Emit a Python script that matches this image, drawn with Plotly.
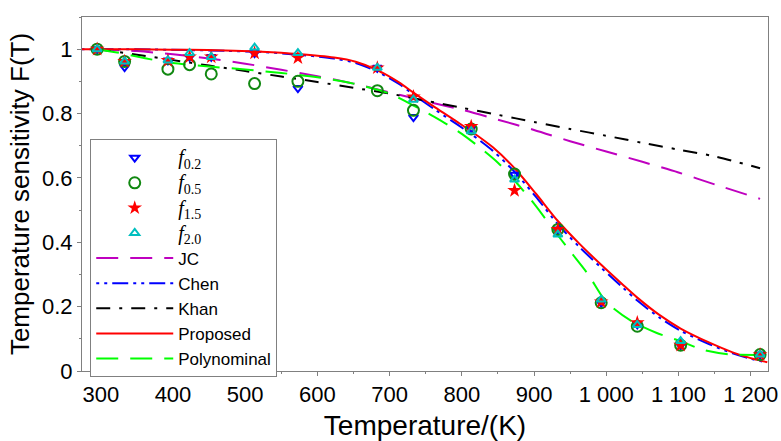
import plotly.graph_objects as go

# ---- measured data (temperature in K, F(T)) ----
T_exp = [295, 333, 393, 423, 453, 513, 573, 683, 733, 813, 873, 933, 993, 1043, 1103, 1213]
f02 = [1.0, 0.944, 0.965, 0.976, 0.976, 0.988, 0.879, 0.942, 0.789, 0.755, 0.61, 0.44, 0.212, 0.145, 0.08, 0.051]
f05 = [1.0, 0.962, 0.938, 0.952, 0.923, 0.893, 0.90, 0.871, 0.81, 0.752, 0.612, 0.44, 0.212, 0.139, 0.08, 0.051]
f15 = [1.0, 0.962, 0.965, 0.976, 0.976, 0.988, 0.973, 0.942, 0.852, 0.76, 0.561, 0.44, 0.215, 0.15, 0.08, 0.051]
f20 = [1.0, 0.962, 0.965, 0.988, 0.976, 1.005, 0.988, 0.942, 0.843, 0.745, 0.595, 0.424, 0.222, 0.143, 0.093, 0.051]

# ---- model curves ----
T_jc = [295, 350, 400, 450, 500, 550, 600, 650, 700, 750, 800, 850, 900, 950, 1000, 1050, 1100, 1150, 1213]
F_jc = [1.0, 0.994, 0.984, 0.971, 0.955, 0.936, 0.916, 0.893, 0.866, 0.838, 0.812, 0.781, 0.749, 0.714, 0.682, 0.650, 0.617, 0.580, 0.535]

T_khan = [295, 350, 400, 450, 500, 550, 600, 650, 700, 750, 800, 850, 900, 950, 1000, 1050, 1100, 1150, 1213]
F_khan = [1.0, 0.983, 0.966, 0.949, 0.932, 0.915, 0.898, 0.88, 0.862, 0.84, 0.818, 0.796, 0.774, 0.752, 0.731, 0.709, 0.688, 0.667, 0.63]

T_prop = [273, 323, 373, 423, 473, 523, 573, 623, 653, 683, 713, 733, 763, 793, 813, 843, 873, 903, 933, 963, 993, 1023, 1043, 1073, 1103, 1143, 1175, 1200, 1223]
F_prop = [1.0, 1.0, 0.999, 0.998, 0.996, 0.992, 0.985, 0.974, 0.961, 0.935, 0.897, 0.865, 0.819, 0.775, 0.745, 0.695, 0.63, 0.55, 0.466, 0.395, 0.33, 0.268, 0.228, 0.175, 0.132, 0.088, 0.058, 0.04, 0.027]
F_chen = [1.0, 1.0, 0.999, 0.997, 0.995, 0.991, 0.983, 0.971, 0.957, 0.93, 0.892, 0.859, 0.812, 0.767, 0.736, 0.684, 0.619, 0.54, 0.456, 0.385, 0.321, 0.259, 0.219, 0.167, 0.125, 0.083, 0.055, 0.038, 0.026]

T_poly = [295, 325, 350, 375, 400, 450, 500, 550, 600, 650, 700, 733, 760, 800, 850, 873, 900, 925, 950, 975, 1000, 1035, 1070, 1100, 1135, 1170, 1213]
F_poly = [1.0, 0.989, 0.977, 0.966, 0.957, 0.946, 0.937, 0.926, 0.913, 0.893, 0.862, 0.825, 0.792, 0.737, 0.647, 0.592, 0.52, 0.445, 0.372, 0.3, 0.215, 0.155, 0.118, 0.095, 0.065, 0.052, 0.05]

x_ticks = [300, 400, 500, 600, 700, 800, 900, 1000, 1100, 1200]
y_ticks = [0, 0.2, 0.4, 0.6, 0.8, 1.0]

SERIF = "Liberation Serif, DejaVu Serif, serif"


def fname(sub):
    return ('<span style="font-family:%s;font-size:20px"><i>f</i><sub>%s</sub></span>' % (SERIF, sub))


fig = go.Figure()

# lines first (legend ranked after markers)
fig.add_trace(go.Scatter(x=T_jc, y=F_jc, mode="lines", name="JC", legendrank=5,
                         line=dict(color="#BF00BF", width=2, dash="22px,12px", shape="spline", smoothing=0.8)))
fig.add_trace(go.Scatter(x=T_prop, y=F_chen, mode="lines", name="Chen", legendrank=6,
                         line=dict(color="#0000FF", width=2, dash="3px,5px,3px,5px,16px,5px", shape="spline", smoothing=0.8)))
fig.add_trace(go.Scatter(x=T_khan, y=F_khan, mode="lines", name="Khan", legendrank=7,
                         line=dict(color="#000000", width=2, dash="14px,9px,3px,9px", shape="spline", smoothing=0.8)))
fig.add_trace(go.Scatter(x=T_prop, y=F_prop, mode="lines", name="Proposed", legendrank=8,
                         line=dict(color="#FF0000", width=2, shape="spline", smoothing=0.8)))
fig.add_trace(go.Scatter(x=T_poly, y=F_poly, mode="lines", name="Polynominal", legendrank=9,
                         line=dict(color="#00FF00", width=2, dash="22px,12px", shape="spline", smoothing=0.8)))

# experimental markers
fig.add_trace(go.Scatter(x=T_exp, y=f02, mode="markers", name=fname("0.2"), legendrank=1,
                         marker=dict(symbol="triangle-down-open", size=8, color="#0000FF",
                                     line=dict(width=2, color="#0000FF"))))
fig.add_trace(go.Scatter(x=T_exp, y=f05, mode="markers", name=fname("0.5"), legendrank=2,
                         marker=dict(symbol="circle-open", size=11, color="#118811",
                                     line=dict(width=2, color="#118811"))))
fig.add_trace(go.Scatter(x=T_exp, y=f15, mode="markers", name=fname("1.5"), legendrank=3,
                         marker=dict(symbol="star", size=11, color="#FF0000",
                                     line=dict(width=0))))
fig.add_trace(go.Scatter(x=T_exp, y=f20, mode="markers", name=fname("2.0"), legendrank=4,
                         marker=dict(symbol="triangle-up-open", size=8, color="#00BFBF",
                                     line=dict(width=2, color="#00BFBF"))))

axis_common = dict(
    showline=True, linecolor="#808080", linewidth=1, mirror=True,
    ticks="outside", ticklen=4, tickcolor="#808080", tickwidth=1,
    showgrid=False, zeroline=False, automargin=False,
    tickfont=dict(size=22, color="black"),
)

fig.update_layout(
    width=781, height=441,
    margin=dict(l=82, r=13, t=17, b=70),
    paper_bgcolor="white", plot_bgcolor="white",
    font=dict(family="Liberation Sans, Arial, sans-serif", color="black"),
    separators=". ",
    showlegend=True,
    legend=dict(
        x=0.012, y=0.655, xanchor="left", yanchor="top",
        bgcolor="white", bordercolor="#808080", borderwidth=1,
        font=dict(size=17, color="black"),
        itemwidth=77, tracegroupgap=0,
    ),
    xaxis=dict(
        range=[274, 1224], tickvals=x_ticks, separatethousands=True,
        minor=dict(dtick=50, ticklen=2, tickcolor="#808080", ticks="outside"),
        title=dict(text="Temperature/(K)", font=dict(size=28), standoff=12),
        **axis_common,
    ),
    yaxis=dict(
        range=[0, 1.1], tickvals=y_ticks,
        minor=dict(dtick=0.1, ticklen=2, tickcolor="#808080", ticks="outside"),
        title=dict(text="Temperature sensitivity F(T)", font=dict(size=26), standoff=4),
        **axis_common,
    ),
)

fig.write_html("out.html")
